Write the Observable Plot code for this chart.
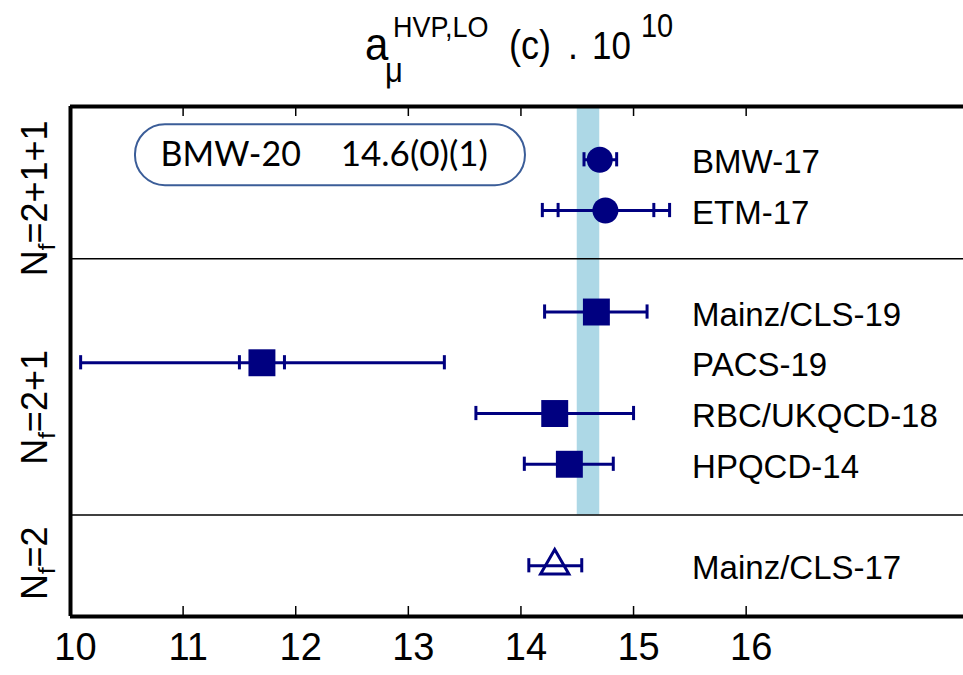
<!DOCTYPE html>
<html><head><meta charset="utf-8">
<script src="https://cdn.jsdelivr.net/npm/d3@7"></script>
<script src="https://cdn.jsdelivr.net/npm/@observablehq/plot@0.6"></script>
<style>body{margin:0;background:#fff} svg{display:block}</style>
</head><body><div id="chart"></div>
<script>
// ---- data ----
const studies = ["BMW-17","ETM-17","Mainz/CLS-19","PACS-19","RBC/UKQCD-18","HPQCD-14","Mainz/CLS-17"];
const rows    = [1, 2, 4, 5, 6, 7, 9];
const values  = [14.70, 14.75, 14.67, 11.70, 14.30, 14.43, 14.30];
const errLo   = [14.56, 14.19, 14.21, 10.09, 13.60, 14.03, 14.07];
const errHi   = [14.85, 15.32, 15.12, 13.32, 15.00, 14.82, 14.54];
const statLo  = [null, 14.33, null, 11.50, null, null, null];
const statHi  = [null, 15.18, null, 11.90, null, null, null];
const markers = ["circle","circle","square","square","square","square","triangle"];
const xTicks  = [10, 11, 12, 13, 14, 15, 16];
const separators = [2.95, 8];
const groupNames = ["=2+1+1", "=2+1", "=2"];
const groupCenters = [1.77, 5.89, 8.96];
const bmw20 = {label: "BMW-20", text: "14.6(0)(1)", value: 14.6, err: 0.1};

// ---- layout constants ----
const yTop = -0.05, yBottom = 10, labelX = 15.52;
const navy = "#000080";
const font = "'Liberation Sans', Arial, Helvetica, sans-serif";

const data = studies.map((name, i) => ({name, row: rows[i], value: values[i], lo: errLo[i], hi: errHi[i],
  slo: statLo[i], shi: statHi[i], marker: markers[i]}));
const caps = data.flatMap(d => [d.lo, d.hi].concat(d.slo != null ? [d.slo, d.shi] : []).map(x => ({x, row: d.row})));
const capHalf = 0.14;
const band = [{lo: bmw20.value - bmw20.err, hi: bmw20.value + bmw20.err, top: yTop, bottom: separators[1]}];
const box = [{x1: 10.577, x2: 14.04, y1: 0.31, y2: 1.51}];

const chart = Plot.plot({
  width: 963, height: 675,
  marginTop: 106, marginBottom: 59, marginLeft: 70, marginRight: 0,
  style: {fontFamily: font, background: "white", overflow: "visible"},
  x: {domain: [10, 17.93], axis: null},
  y: {domain: [yTop, yBottom], reverse: true, axis: null},
  marks: [
    Plot.rect(band, {x1: "lo", x2: "hi", y1: "top", y2: "bottom", fill: "#add8e6"}),
    Plot.ruleY(separators, {stroke: "black", strokeWidth: 1.5}),
    Plot.rect(box, {x1: "x1", x2: "x2", y1: "y1", y2: "y2", rx: 30, fill: "none", stroke: "#3b5d98", strokeWidth: 2}),
    Plot.text([bmw20], {x: () => 10.80, y: () => 0.90, text: "label", textAnchor: "start", fontSize: 34, fontFamily: "Lato, 'Open Sans', sans-serif", fill: "black"}),
    Plot.text([bmw20], {x: () => 12.40, y: () => 0.90, text: "text", textAnchor: "start", fontSize: 35, fontFamily: "Lato, 'Open Sans', sans-serif", fill: "black"}),
    Plot.ruleX(xTicks.slice(1), {insetTop: 500, stroke: "black", strokeWidth: 1.5}),
    Plot.ruleX(xTicks.slice(1), {insetBottom: 500, stroke: "black", strokeWidth: 1.5}),
    Plot.ruleY([yTop, yBottom], {stroke: "black", strokeWidth: 4}),
    Plot.ruleX([xTicks[0]], {stroke: "black", strokeWidth: 4}),
    Plot.ruleY(data, {y: "row", x1: "lo", x2: "hi", stroke: navy, strokeWidth: 3}),
    Plot.ruleX(caps, {x: "x", y1: d => d.row - capHalf, y2: d => d.row + capHalf, stroke: navy, strokeWidth: 3}),
    Plot.dot(data.filter(d => d.marker === "circle"), {x: "value", y: "row", r: 13, fill: navy, symbol: "circle"}),
    Plot.dot(data.filter(d => d.marker === "square"), {x: "value", y: "row", r: 15.2, fill: navy, symbol: "square"}),
    Plot.dot(data.filter(d => d.marker === "triangle"), {x: "value", y: "row", r: 10.5, fill: "none", stroke: navy, strokeWidth: 3, symbol: "triangle"}),
    Plot.text(data, {x: () => labelX, y: "row", text: "name", textAnchor: "start", fontSize: 33, dy: 3, fill: "black"}),
    Plot.text(xTicks, {x: d => d, frameAnchor: "bottom", dy: 43, dx: 5, text: d => String(d), fontSize: 38, fill: "black"})
  ]
});
document.getElementById("chart").appendChild(chart);

// ---- title with super/subscripts ----
const svg = d3.select(chart);
const g = svg.append("g").attr("font-family", font).attr("fill", "black").attr("text-anchor", "start");
const part = (x, y, size, txt, sy = 1.12) =>
  g.append("text").attr("transform", `translate(${x},${y}) scale(1,${sy})`).attr("font-size", size).text(txt);
part(365, 60, 42, "a");
part(385, 82, 31, "μ");
part(393, 37, 27, "HVP,LO");
part(509, 59, 36, "(c)");
part(568, 59, 36, ".");
part(592, 59, 35, "10");
part(641, 37, 29, "10");

// ---- group labels (rotated) ----
const yScale = chart.scale("y");
groupNames.forEach((name, i) => {
  const yc = yScale.apply(groupCenters[i]);
  const t = g.append("text")
    .attr("transform", `translate(47,${yc}) rotate(-90)`)
    .attr("text-anchor", "middle").attr("font-size", 36);
  t.append("tspan").text("N");
  t.append("tspan").attr("font-size", 24).attr("dy", 8).text("f");
  t.append("tspan").attr("dy", -8).text(name);
});
</script>
</body></html>
